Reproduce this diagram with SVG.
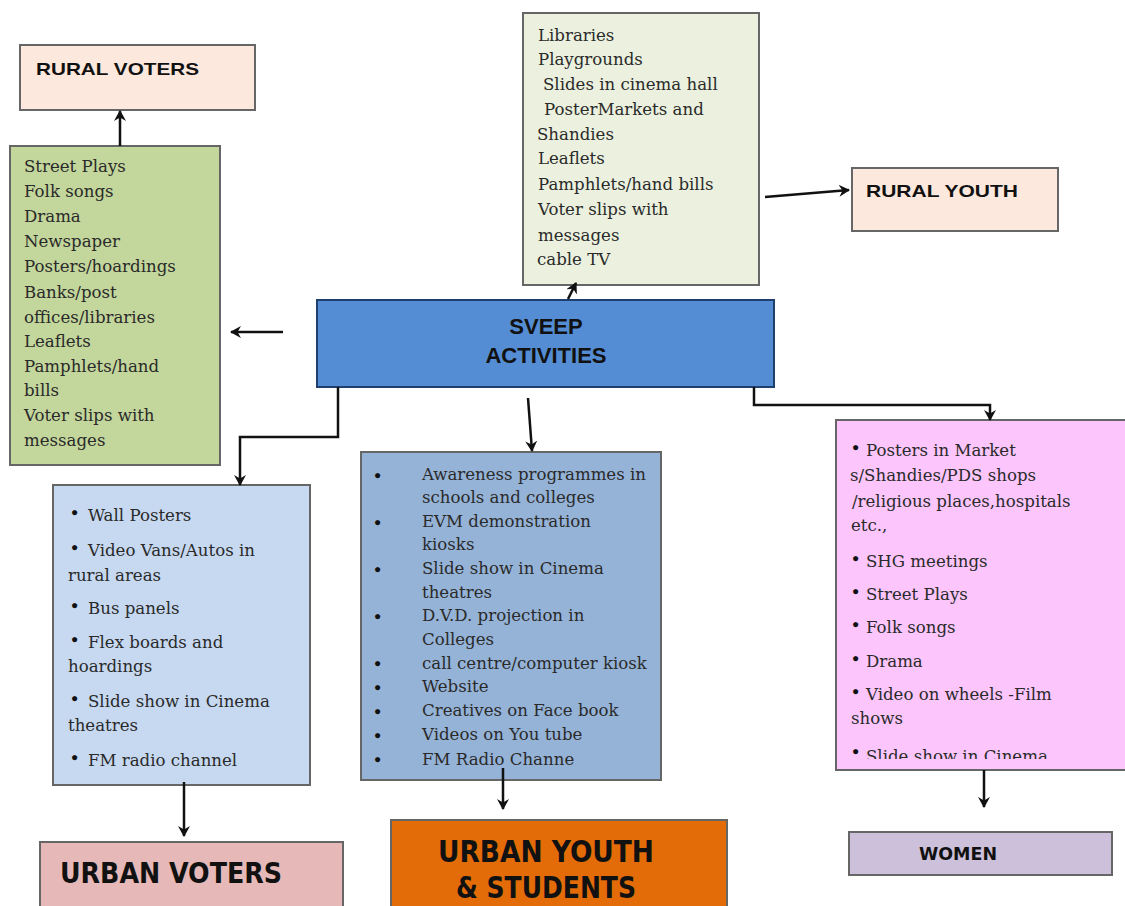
<svg xmlns="http://www.w3.org/2000/svg" width="1125" height="906" viewBox="0 0 1125 906">
<style>
.box{stroke:#666;stroke-width:2}
.lbl{font-family:"Liberation Sans",Arial,sans-serif;font-weight:bold;fill:#111}
.cond{font-family:"DejaVu Sans Condensed","DejaVu Sans",sans-serif;font-weight:bold;fill:#111}
.t{font-family:"DejaVu Serif","Liberation Serif",serif;font-size:16.6px;fill:#2a2a2a}
.b{font-family:"Liberation Sans",Arial,sans-serif;font-size:12px;fill:#111}
.c{fill:none;stroke:#111;stroke-width:2.5}
</style>
<defs>
<marker id="ah" markerWidth="12" markerHeight="12" refX="10" refY="6" orient="auto" markerUnits="userSpaceOnUse">
<path d="M0,0 L11,6 L0,12 L3.5,6 Z" fill="#111"/>
</marker>
<clipPath id="wclip"><rect x="836" y="420" width="289" height="339"/></clipPath>
</defs>
<rect width="1125" height="906" fill="#fff"/>

<g id="rural-voters">
<rect class="box" x="20" y="45" width="235" height="65" fill="#fce8dc"/>
<text class="lbl" x="36" y="75" font-size="17" textLength="163" lengthAdjust="spacingAndGlyphs">RURAL VOTERS</text>
</g>

<g id="rural-list">
<rect class="box" x="10" y="146" width="210" height="319" fill="#c3d69b"/>
<text class="t" x="24" y="172">Street Plays</text>
<text class="t" x="24" y="197">Folk songs</text>
<text class="t" x="24" y="222">Drama</text>
<text class="t" x="24" y="247">Newspaper</text>
<text class="t" x="24" y="272">Posters/hoardings</text>
<text class="t" x="24" y="298">Banks/post</text>
<text class="t" x="24" y="323">offices/libraries</text>
<text class="t" x="24" y="347">Leaflets</text>
<text class="t" x="24" y="372">Pamphlets/hand</text>
<text class="t" x="24" y="396">bills</text>
<text class="t" x="24" y="421">Voter slips with</text>
<text class="t" x="24" y="446">messages</text>
</g>

<g id="youth-list">
<rect class="box" x="523" y="13" width="236" height="272" fill="#ebf1de"/>
<text class="t" x="538" y="41">Libraries</text>
<text class="t" x="538" y="65">Playgrounds</text>
<text class="t" x="543" y="90">Slides in cinema hall</text>
<text class="t" x="544" y="115">PosterMarkets and</text>
<text class="t" x="537" y="140">Shandies</text>
<text class="t" x="538" y="164">Leaflets</text>
<text class="t" x="538" y="190">Pamphlets/hand bills</text>
<text class="t" x="538" y="215">Voter slips with</text>
<text class="t" x="538" y="241">messages</text>
<text class="t" x="537" y="265">cable TV</text>
</g>

<g id="rural-youth">
<rect class="box" x="852" y="168" width="206" height="63" fill="#fce8dc"/>
<text class="lbl" x="866" y="197" font-size="17" textLength="152" lengthAdjust="spacingAndGlyphs">RURAL YOUTH</text>
</g>

<g id="sveep">
<rect x="317" y="300" width="457" height="87" fill="#548dd4" stroke="#1f3f6e" stroke-width="2"/>
<text class="lbl" x="546" y="334" font-size="22" text-anchor="middle">SVEEP</text>
<text class="lbl" x="546" y="363" font-size="22" text-anchor="middle">ACTIVITIES</text>
</g>

<g id="urban-list">
<rect class="box" x="53" y="485" width="257" height="300" fill="#c6d9f1"/>
<text class="b" x="71" y="516">●</text><text class="t" x="88" y="521">Wall Posters</text>
<text class="b" x="71" y="551">●</text><text class="t" x="88" y="556">Video Vans/Autos in</text>
<text class="t" x="68" y="581">rural areas</text>
<text class="b" x="71" y="609">●</text><text class="t" x="88" y="614">Bus panels</text>
<text class="b" x="71" y="643">●</text><text class="t" x="88" y="648">Flex boards and</text>
<text class="t" x="68" y="672">hoardings</text>
<text class="b" x="71" y="702">●</text><text class="t" x="88" y="707">Slide show in Cinema</text>
<text class="t" x="68" y="731">theatres</text>
<text class="b" x="71" y="761">●</text><text class="t" x="88" y="766">FM radio channel</text>
</g>

<g id="urban-youth-list">
<rect class="box" x="361" y="452" width="300" height="328" fill="#95b3d7"/>
<g class="b">
<text x="374" y="479">●</text><text x="374" y="526">●</text><text x="374" y="573">●</text><text x="374" y="620">●</text><text x="374" y="667">●</text><text x="374" y="691">●</text><text x="374" y="715">●</text><text x="374" y="739">●</text><text x="374" y="763">●</text>
</g>
<text class="t" x="422" y="480">Awareness programmes in</text>
<text class="t" x="422" y="503">schools and colleges</text>
<text class="t" x="422" y="527">EVM demonstration</text>
<text class="t" x="422" y="550">kiosks</text>
<text class="t" x="422" y="574">Slide show in Cinema</text>
<text class="t" x="422" y="598">theatres</text>
<text class="t" x="422" y="621">D.V.D. projection in</text>
<text class="t" x="422" y="645">Colleges</text>
<text class="t" x="422" y="669">call centre/computer kiosk</text>
<text class="t" x="422" y="692">Website</text>
<text class="t" x="422" y="716">Creatives on Face book</text>
<text class="t" x="422" y="740">Videos on You tube</text>
<text class="t" x="422" y="765">FM Radio Channe</text>
</g>

<g id="women-list">
<rect class="box" x="836" y="420" width="295" height="350" fill="#fcc6fc"/>
<g clip-path="url(#wclip)">
<text class="b" x="852" y="451">●</text><text class="t" x="866" y="456">Posters in Market</text>
<text class="t" x="850" y="481">s/Shandies/PDS shops</text>
<text class="t" x="852" y="507">/religious places,hospitals</text>
<text class="t" x="851" y="531">etc.,</text>
<text class="b" x="852" y="562">●</text><text class="t" x="866" y="567">SHG meetings</text>
<text class="b" x="852" y="595">●</text><text class="t" x="866" y="600">Street Plays</text>
<text class="b" x="852" y="628">●</text><text class="t" x="866" y="633">Folk songs</text>
<text class="b" x="852" y="662">●</text><text class="t" x="866" y="667">Drama</text>
<text class="b" x="852" y="695">●</text><text class="t" x="866" y="700">Video on wheels -Film</text>
<text class="t" x="851" y="724">shows</text>
<text class="b" x="852" y="755">●</text><text class="t" x="866" y="762">Slide show in Cinema</text>
</g>
</g>

<g id="urban-voters">
<rect class="box" x="40" y="842" width="303" height="70" fill="#e6b9b8"/>
<text class="cond" x="60" y="883" font-size="28" textLength="222" lengthAdjust="spacingAndGlyphs">URBAN VOTERS</text>
</g>

<g id="urban-youth">
<rect class="box" x="391" y="820" width="336" height="92" fill="#e36c09"/>
<text class="cond" x="546" y="862" font-size="30" text-anchor="middle" textLength="216" lengthAdjust="spacingAndGlyphs">URBAN YOUTH</text>
<text class="cond" x="546" y="898" font-size="30" text-anchor="middle" textLength="180" lengthAdjust="spacingAndGlyphs">&amp; STUDENTS</text>
</g>

<g id="women">
<rect class="box" x="849" y="832" width="263" height="43" fill="#ccc0da"/>
<text class="cond" x="958" y="860" font-size="18" text-anchor="middle" textLength="78" lengthAdjust="spacingAndGlyphs">WOMEN</text>
</g>

<g id="connectors">
<path class="c" d="M120,146 V111" marker-end="url(#ah)"/>
<path class="c" d="M283,332 H231" marker-end="url(#ah)"/>
<path class="c" d="M765,197 L849,190" marker-end="url(#ah)"/>
<path class="c" d="M568,299 L576,283" marker-end="url(#ah)"/>
<path class="c" d="M338,387 V437 H240 V485" marker-end="url(#ah)"/>
<path class="c" d="M528,398 L532,451" marker-end="url(#ah)"/>
<path class="c" d="M754,387 V405 H990 V420" marker-end="url(#ah)"/>
<path class="c" d="M184,782 V836" marker-end="url(#ah)"/>
<path class="c" d="M503,768 V809" marker-end="url(#ah)"/>
<path class="c" d="M984,770 V807" marker-end="url(#ah)"/>
</g>
</svg>
